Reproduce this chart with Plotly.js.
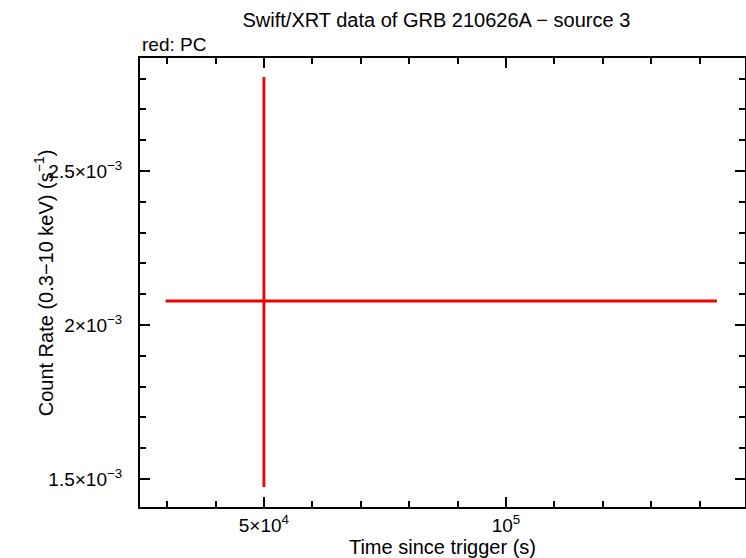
<!DOCTYPE html>
<html>
<head>
<meta charset="utf-8">
<script src="https://cdn.plot.ly/plotly-3.0.1.min.js"></script>
<style>html,body{margin:0;padding:0;background:#fff;}#chart{width:746px;height:558px;}</style>
</head>
<body>
<div id="chart"></div>
<script>
// PC data point (time in s, rate in counts/s)
const pcTime = [50000];
const pcTimeErrPlus = [93600];
const pcTimeErrMinus = [20300];
const pcRate = [0.002078];
const pcRateErrPlus = [0.000727];
const pcRateErrMinus = [0.000604];

const xTickVals = [50000, 100000];
const xTickText = ['5×10<sup>4</sup>', '10<sup>5</sup>'];
const yTickVals = [0.0015, 0.002, 0.0025];
const yTickText = ['1.5×10<sup>−3</sup>', '2×10<sup>−3</sup>', '2.5×10<sup>−3</sup>'];

const red = '#ee0000';
const trace = {
  x: pcTime, y: pcRate, type: 'scatter', mode: 'markers',
  marker: {size: 0.1, color: red},
  error_x: {type: 'data', array: pcTimeErrPlus, arrayminus: pcTimeErrMinus, symmetric: false, color: red, thickness: 2.8, width: 0},
  error_y: {type: 'data', array: pcRateErrPlus, arrayminus: pcRateErrMinus, symmetric: false, color: red, thickness: 2.8, width: 0},
  hoverinfo: 'skip', showlegend: false
};

const fontFam = '"Liberation Sans", Arial, Helvetica, sans-serif';
const layout = {
  width: 746, height: 558,
  margin: {l: 140, r: 1, t: 58, b: 51},
  paper_bgcolor: '#fff', plot_bgcolor: '#fff',
  font: {family: fontFam, color: '#000', size: 19},
  title: {text: 'Swift/XRT data of GRB 210626A − source 3', font: {size: 20, family: fontFam}, x: 0.585, xanchor: 'center', y: 0.964, yanchor: 'middle'},
  xaxis: {
    range: [24400, 149400], type: 'linear',
    tickmode: 'array', tickvals: xTickVals, ticktext: xTickText,
    ticks: 'inside', ticklen: 10, tickwidth: 2, tickcolor: '#000',
    minor: {tickmode: 'linear', tick0: 0, dtick: 10000, ticks: 'inside', ticklen: 6, tickwidth: 2, tickcolor: '#000'},
    showline: true, linewidth: 2, linecolor: '#000', mirror: 'ticks',
    showgrid: false, zeroline: false,
    tickfont: {size: 19},
    ticklabelstandoff: 0,
    title: {text: 'Time since trigger (s)', font: {size: 20}, standoff: 4}
  },
  yaxis: {
    range: [0.001409, 0.002867], type: 'linear',
    tickmode: 'array', tickvals: yTickVals, ticktext: yTickText,
    ticks: 'inside', ticklen: 10, tickwidth: 2, tickcolor: '#000',
    minor: {tickmode: 'linear', tick0: 0, dtick: 0.0001, ticks: 'inside', ticklen: 6, tickwidth: 2, tickcolor: '#000'},
    showline: true, linewidth: 2, linecolor: '#000', mirror: 'ticks',
    showgrid: false, zeroline: false,
    tickfont: {size: 19},
    ticklabelstandoff: 12
  },
  annotations: [{
    text: 'red: PC', xref: 'paper', yref: 'paper', x: 0, y: 1, xanchor: 'left', yanchor: 'bottom',
    yshift: 1, showarrow: false, font: {size: 19, family: fontFam}
  }, {
    text: 'Count Rate (0.3−10 keV) (s<sup>−1</sup>)', xref: 'paper', yref: 'paper',
    x: -0.159, y: 0.5, xanchor: 'center', yanchor: 'middle', textangle: -90,
    showarrow: false, font: {size: 20, family: fontFam}
  }]
};

Plotly.newPlot('chart', [trace], layout, {staticPlot: true, displayModeBar: false});
</script>
</body>
</html>
